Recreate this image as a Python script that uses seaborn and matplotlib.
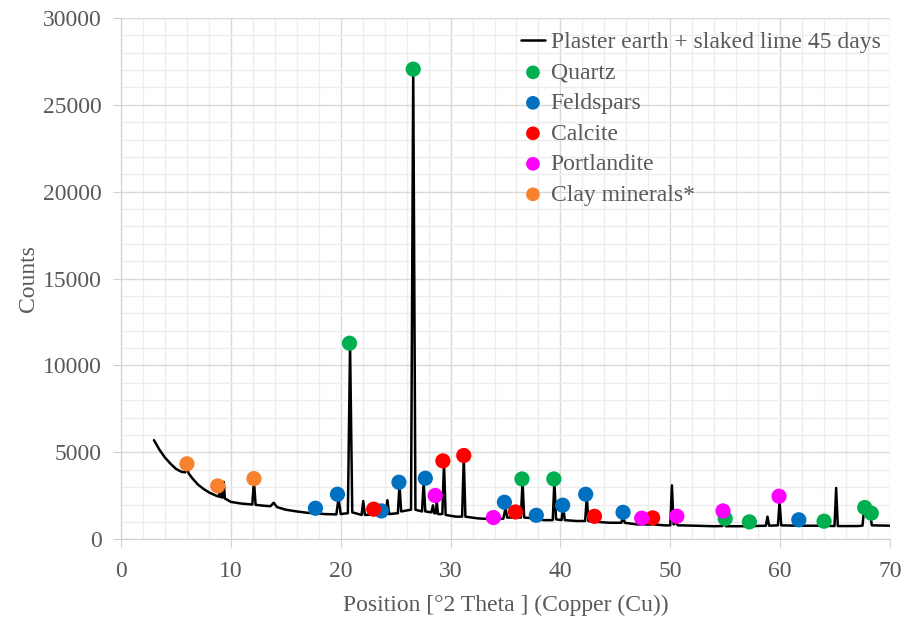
import matplotlib
matplotlib.use("Agg")
import matplotlib.pyplot as plt
import seaborn as sns
import pandas as pd
from matplotlib.ticker import MultipleLocator

# diffractogram trace (2 theta, counts)
two_theta = [3.0, 3.5, 4.0, 4.5, 5.0, 5.5, 5.85, 6.0, 6.15, 6.5, 7.0, 7.5, 8.0, 8.5, 8.9,
             9.0, 9.1, 9.25, 9.35, 9.45, 10.0, 11.0, 11.95, 12.1, 12.25, 13.0, 13.6, 13.9,
             14.2, 15.0, 16.0, 17.0, 17.7, 18.5, 19.6, 19.8, 20.0, 20.65, 20.85, 21.05,
             21.9, 22.05, 22.2, 23.0, 23.5, 23.65, 23.8, 24.1, 24.25, 24.4, 25.2, 25.35,
             25.5, 26.4, 26.6, 26.8, 27.4, 27.55, 27.7, 28.25, 28.4, 28.5, 28.65, 28.75,
             28.85, 29.25, 29.4, 29.55, 30.5, 31.05, 31.2, 31.35, 32.5, 33.9, 34.8, 35.0,
             35.15, 35.8, 35.95, 36.1, 36.4, 36.55, 36.7, 37.65, 37.8, 37.95, 38.5, 39.3,
             39.45, 39.6, 40.1, 40.25, 40.4, 41.5, 42.25, 42.4, 42.55, 43.0, 43.1, 43.25,
             44.5, 45.55, 45.7, 45.85, 47.0, 47.4, 47.5, 47.6, 48.3, 48.4, 48.5, 49.5,
             50.0, 50.15, 50.3, 50.5, 50.7, 51.0, 54.0, 54.75, 54.9, 55.05, 57.0, 58.7,
             58.85, 59.0, 59.8, 59.95, 60.1, 61.6, 61.75, 61.9, 64.0, 64.95, 65.1, 65.25,
             67.0, 67.5, 67.65, 67.8, 68.0, 68.15, 68.35, 70.0]
counts = [5700, 5150, 4700, 4350, 4050, 3880, 3850, 4150, 3800, 3500, 3150, 2900, 2700, 2550, 2450,
          2800, 2420, 2400, 3300, 2350, 2150, 2050, 2000, 3350, 1980, 1930, 1900, 2100,
          1850, 1700, 1600, 1520, 1500, 1450, 1430, 2350, 1450, 1500, 11200, 1550,
          1400, 2200, 1400, 1420, 1450, 1800, 1450, 1500, 2250, 1450, 1500, 3150,
          1600, 1700, 27050, 1700, 1600, 3300, 1600, 1550, 1950, 1500, 1500, 2150,
          1450, 1450, 4400, 1400, 1300, 1300, 4700, 1300, 1200, 1150, 1180, 1800,
          1250, 1250, 1480, 1250, 1250, 3350, 1250, 1200, 1250, 1150, 1100, 1100,
          3350, 1150, 1100, 1850, 1100, 1050, 1050, 2450, 1050, 1000, 1200, 1000,
          950, 950, 1350, 950, 850, 850, 1000, 850, 850, 1050, 850, 800,
          800, 3100, 850, 950, 800, 800, 750, 760, 1250, 750, 750, 780,
          1300, 780, 800, 2150, 800, 780, 950, 780, 780, 760, 2950, 760,
          760, 780, 1800, 1500, 1550, 1650, 800, 780]

# phase markers
quartz_x = [20.8, 26.6, 36.5, 39.4, 55.0, 57.2, 64.0, 67.7, 68.3]
quartz_y = [11280, 27050, 3470, 3470, 1190, 1000, 1040, 1825, 1500]
feldspar_x = [17.7, 19.7, 23.7, 25.3, 27.7, 34.9, 37.8, 40.2, 42.3, 45.7, 61.7]
feldspar_y = [1785, 2590, 1630, 3280, 3510, 2130, 1380, 1960, 2590, 1550, 1120]
calcite_x = [23.0, 29.3, 31.2, 35.9, 43.1, 48.4]
calcite_y = [1730, 4510, 4820, 1570, 1320, 1230]
portlandite_x = [28.6, 33.9, 47.4, 50.6, 54.8, 59.9]
portlandite_y = [2515, 1250, 1210, 1325, 1630, 2475]
clay_x = [6.0, 8.8, 12.1]
clay_y = [4340, 3070, 3490]

phases = [
    ("Quartz", quartz_x, quartz_y, "#00b050"),
    ("Feldspars", feldspar_x, feldspar_y, "#0070c0"),
    ("Calcite", calcite_x, calcite_y, "#ff0000"),
    ("Portlandite", portlandite_x, portlandite_y, "#ff00ff"),
    ("Clay minerals*", clay_x, clay_y, "#f7812c"),
]

sns.set_style("white")
plt.rcParams["font.family"] = ["Liberation Serif", "DejaVu Serif"]
text_col = "#595959"
fs = 17

fig = plt.figure(figsize=(9.1, 6.17), dpi=100)
ax = fig.add_axes([0.133, 0.126, 0.845, 0.845])

trace = pd.DataFrame({"x": two_theta, "y": counts})
sns.lineplot(data=trace, x="x", y="y", color="black", lw=1.8, ax=ax,
             sort=False, estimator=None, label="Plaster earth + slaked lime 45 days")

for name, xs, ys, col in phases:
    df = pd.DataFrame({"x": xs, "y": ys})
    sns.scatterplot(data=df, x="x", y="y", color=col, s=120, edgecolor="none",
                    ax=ax, label=name, zorder=3)

ax.set_xlim(0, 70)
ax.set_ylim(0, 30000)
ax.xaxis.set_major_locator(MultipleLocator(10))
ax.xaxis.set_minor_locator(MultipleLocator(2))
ax.yaxis.set_major_locator(MultipleLocator(5000))
ax.yaxis.set_minor_locator(MultipleLocator(1000))
ax.grid(which="major", color="#d9d9d9", lw=1.0)
ax.grid(which="minor", color="#ededed", lw=1.0)
ax.set_axisbelow(True)

for s in ["top", "right"]:
    ax.spines[s].set_visible(False)
for s in ["left", "bottom"]:
    ax.spines[s].set_color("#d0d0d0")
ax.tick_params(which="major", length=6, color="#d0d0d0", labelsize=fs,
               labelcolor=text_col, bottom=True, left=True)
ax.tick_params(axis="x", pad=10)
ax.tick_params(axis="y", pad=8)
ax.tick_params(which="minor", length=0)

ax.set_xlabel("Position [°2 Theta ] (Copper (Cu))", fontsize=fs, color=text_col, labelpad=9)
ax.set_ylabel("Counts", fontsize=fs, color=text_col, labelpad=3)

leg = ax.legend(loc="upper right", frameon=False, fontsize=fs, handlelength=1.0,
                handletextpad=0.25, labelspacing=0.38, borderaxespad=0.0,
                bbox_to_anchor=(1.0, 0.992), markerscale=0.9)
for t in leg.get_texts():
    t.set_color(text_col)

fig.savefig("out.png", dpi=100)
